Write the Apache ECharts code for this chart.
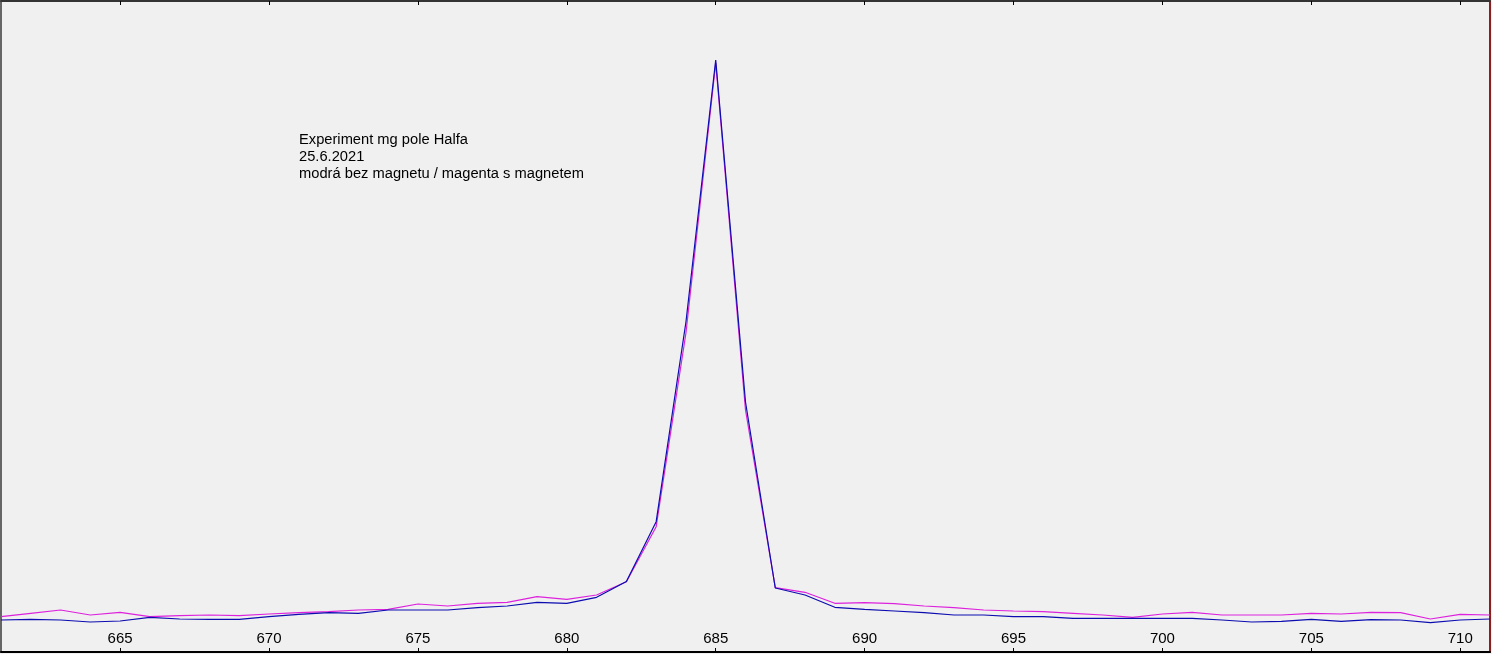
<!DOCTYPE html>
<html>
<head>
<meta charset="utf-8">
<script src="https://cdn.jsdelivr.net/npm/echarts@6/dist/echarts.min.js"></script>
<style>
html,body{margin:0;padding:0;background:#f0f0f0;}
#chart{width:1492px;height:654px;}
</style>
</head>
<body>
<div id="chart"></div>
<script>
const wavelengths = [661,662,663,664,665,666,667,668,669,670,671,672,673,674,675,676,677,678,679,680,681,682,683,684,685,686,687,688,689,690,691,692,693,694,695,696,697,698,699,700,701,702,703,704,705,706,707,708,709,710,711];
const blueNoMagnet = [32,32.7,32,30,31,34.7,33,32.7,32.7,35.3,37.7,39.3,38.7,42,42,42,44.3,46,49.7,48.7,54.7,70.5,130.3,330,592,250,64,57,44.7,42.7,41,39.3,37,37,35.3,35.3,33.7,33.7,33.7,33.7,33.7,32,30,30.7,32.7,30.7,32.3,32,29.3,32,33];
const magentaWithMagnet = [35.3,38.7,42,37,39.7,35.3,36.3,37,36.3,38,39.3,40.3,42,42.7,48,46,48.7,49.7,55.3,52.7,57,70.3,125.3,319,589,242,64.3,59.7,48.7,49.3,48.3,46,44.3,42,41,40.3,38.7,37,34.7,38,39.7,37,37,37,38.7,38,39.7,39.3,33,37.7,37];
const tickValues = [665,670,675,680,685,690,695,700,705,710];
const noteLines = ["Experiment mg pole Halfa","25.6.2021","modrá bez magnetu / magenta s magnetem"];

const pair = (ys) => wavelengths.map((x,i)=>[x,ys[i]]);
const chart = echarts.init(document.getElementById('chart'));
chart.setOption({
  animation:false,
  backgroundColor:'#f0f0f0',
  grid:{left:1,right:2,top:1,bottom:2,containLabel:false},
  xAxis:[{
    type:'value',min:661,max:711,position:'bottom',
    axisLine:{show:true,onZero:false,lineStyle:{color:'#000',width:2}},
    axisTick:{show:true,inside:true,length:4,customValues:tickValues,lineStyle:{color:'#000',width:1}},
    axisLabel:{show:true,inside:true,margin:6,customValues:tickValues,color:'#000',fontSize:15,fontFamily:'Arial, "Liberation Sans", sans-serif'},
    splitLine:{show:false}
  },{
    type:'value',min:661,max:711,position:'top',
    axisLine:{show:true,onZero:false,lineStyle:{color:'#333',width:2}},
    axisTick:{show:true,inside:true,length:4,customValues:tickValues,lineStyle:{color:'#000',width:1}},
    axisLabel:{show:false},
    splitLine:{show:false}
  }],
  yAxis:[{
    type:'value',min:0,max:651,position:'left',
    axisLine:{show:true,onZero:false,lineStyle:{color:'#666',width:2}},
    axisTick:{show:false},axisLabel:{show:false},splitLine:{show:false}
  },{
    type:'value',min:0,max:651,position:'right',
    axisLine:{show:true,onZero:false,lineStyle:{color:'#8b1e1e',width:2}},
    axisTick:{show:false},axisLabel:{show:false},splitLine:{show:false}
  }],
  series:[{
    name:'magenta s magnetem',type:'line',data:pair(magentaWithMagnet),
    showSymbol:false,symbol:'none',lineStyle:{color:'#dd22dd',width:1.2},z:2
  },{
    name:'modrá bez magnetu',type:'line',data:pair(blueNoMagnet),
    showSymbol:false,symbol:'none',lineStyle:{color:'#0c0cb0',width:1.2},z:3
  }],
  graphic:[{
    type:'text',left:299,top:131,
    style:{text:noteLines.join('\n'),fill:'#000',font:'14.7px Arial, "Liberation Sans", sans-serif',lineHeight:17}
  }]
});
</script>
</body>
</html>
